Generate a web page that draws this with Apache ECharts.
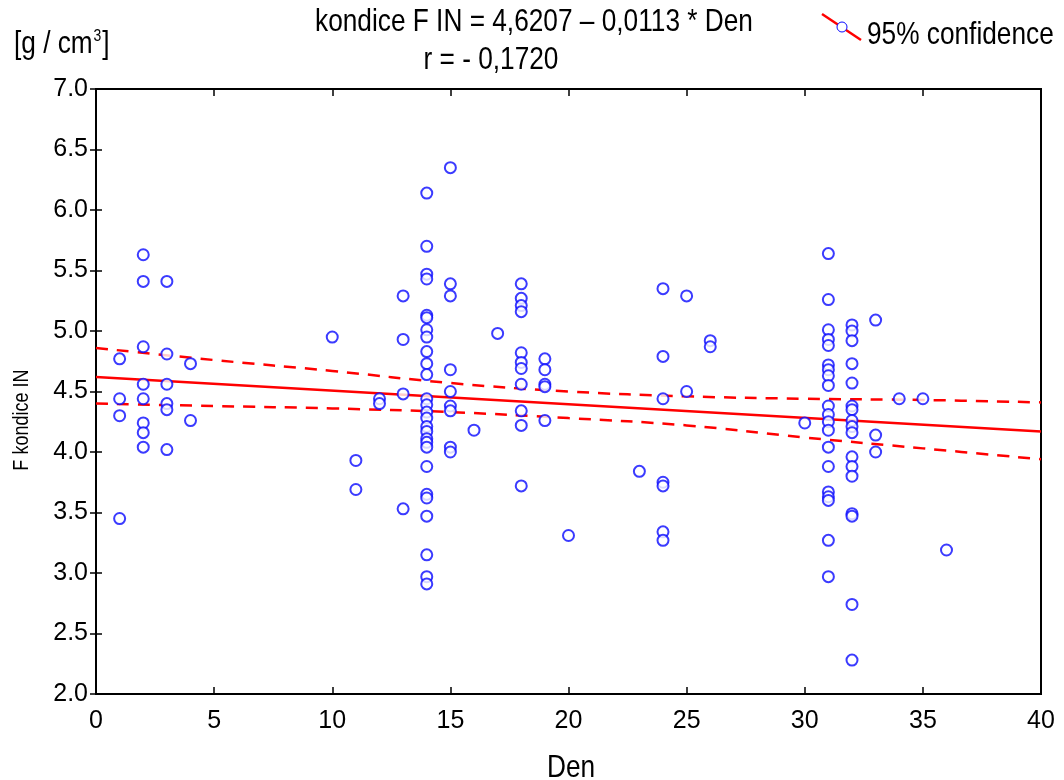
<!DOCTYPE html>
<html>
<head>
<meta charset="utf-8">
<script src="https://cdn.jsdelivr.net/npm/echarts@6/dist/echarts.min.js"></script>
<style>
html,body{margin:0;padding:0;background:#fff;}
#chart{width:1064px;height:780px;}
</style>
</head>
<body>
<div id="chart"></div>
<script>
// Observations: Den (day) and F kondice IN value
const den = [
  1,1,1,1,
  2,2,2,2,2,2,2,2,
  3,3,3,3,3,3,
  4,4,
  10,
  11,11,
  12,12,
  13,13,13,13,
  14,14,14,14,14,14,14,14,14,14,14,14,14,14,14,14,14,14,14,14,14,14,14,14,14,14,14,
  15,15,15,15,15,15,15,15,15,
  16,
  17,
  18,18,18,18,18,18,18,18,18,18,18,
  19,19,19,19,19,
  20,
  23,
  24,24,24,24,24,24,24,
  25,25,
  26,26,
  30,
  31,31,31,31,31,31,31,31,31,31,31,31,31,31,31,31,31,31,31,31,
  32,32,32,32,32,32,32,32,32,32,32,32,32,32,32,32,32,
  33,33,33,
  34,
  35,
  36
];
const kondice = [
  4.77,4.44,4.30,3.45,
  5.63,5.41,4.87,4.56,4.44,4.24,4.16,4.04,
  5.41,4.81,4.56,4.40,4.35,4.02,
  4.73,4.26,
  4.95,
  3.93,3.69,
  4.44,4.40,
  5.29,4.93,4.48,3.53,
  6.14,5.70,5.47,5.43,5.13,5.11,5.01,4.95,4.83,4.73,4.64,4.44,4.39,4.33,4.28,4.21,4.17,4.11,4.08,4.04,3.88,3.65,3.62,3.47,3.15,2.97,2.91,
  6.35,5.39,5.29,4.68,4.50,4.38,4.34,4.04,4.00,
  4.18,
  4.98,
  5.39,5.27,5.21,5.16,4.82,4.74,4.69,4.56,4.34,4.22,3.72,
  4.77,4.68,4.56,4.54,4.26,
  3.31,
  3.84,
  5.35,4.79,4.44,3.75,3.72,3.34,3.27,
  5.29,4.50,
  4.92,4.87,
  4.24,
  5.64,5.26,5.01,4.93,4.88,4.72,4.68,4.63,4.55,4.38,4.31,4.25,4.18,4.04,3.88,3.67,3.63,3.60,3.27,2.97,
  5.05,5.00,4.92,4.73,4.57,4.38,4.35,4.26,4.21,4.16,3.96,3.88,3.80,3.49,3.47,2.74,2.28,
  5.09,4.14,4.00,
  4.44,
  4.44,
  3.19
];
// Regression line end points
const regX = [0, 40];
const regY = [4.6207, 4.1687];
// 95% confidence band
const bandX = [0, 5, 10, 15, 20, 25, 30, 35, 40];
const bandUpper = [4.86, 4.76, 4.67, 4.57, 4.50, 4.46, 4.44, 4.43, 4.41];
const bandLower = [4.40, 4.38, 4.36, 4.33, 4.28, 4.22, 4.12, 4.03, 3.94];
// Axis ticks
const xTicks = {min: 0, max: 40, interval: 5};
const yTicks = {min: 2.0, max: 7.0, interval: 0.5};

const titleText = 'kondice F IN = 4,6207 \u2013 0,0113 * Den';
const subText = 'r = - 0,1720';
const legendText = '95% confidence';
const unitText = '[g / cm';
const xName = 'Den';
const yName = 'F kondice IN';

const REG = '"Liberation Sans", Arial, sans-serif';
const SQ = 0.82; // horizontal squeeze to imitate the condensed face

const scatterData = den.map((d, i) => [d, kondice[i]]);
const regData = regX.map((x, i) => [x, regY[i]]);
const upData = bandX.map((x, i) => [x, bandUpper[i]]);
const loData = bandX.map((x, i) => [x, bandLower[i]]);

const BLUE = '#0a0aff';
const chart = echarts.init(document.getElementById('chart'), null, {renderer: 'canvas'});
const axisLine = {show: true, lineStyle: {color: '#000', width: 2}};
function sqText(x, y, text, size, align, extra) {
  return Object.assign({
    type: 'text', x: x, y: y, scaleX: SQ,
    style: {text: text, fontFamily: REG, fontSize: size, fill: '#000',
            textAlign: align || 'left', textVerticalAlign: 'top'}
  }, extra || {});
}
chart.setOption({
  backgroundColor: '#fff',
  animation: false,
  grid: {left: 96, right: 23, top: 89, bottom: 86, show: true, borderColor: '#000', borderWidth: 2, containLabel: false},
  xAxis: [{
    type: 'value', min: xTicks.min, max: xTicks.max, interval: xTicks.interval,
    axisLine: axisLine,
    axisTick: {show: true, inside: true, length: 7, lineStyle: {color: '#000', width: 1.5}},
    axisLabel: {fontFamily: REG, fontSize: 25, color: '#000', margin: 15},
    splitLine: {show: false}
  }, {
    type: 'value', position: 'top', min: xTicks.min, max: xTicks.max, interval: xTicks.interval,
    axisLine: axisLine,
    axisTick: {show: true, inside: true, length: 7, lineStyle: {color: '#000', width: 1.5}},
    axisLabel: {show: false}, splitLine: {show: false}
  }],
  yAxis: [{
    type: 'value', min: yTicks.min, max: yTicks.max, interval: yTicks.interval,
    axisLine: axisLine,
    axisTick: {show: true, inside: true, length: 6, lineStyle: {color: '#000', width: 1.5}},
    axisLabel: {fontFamily: REG, fontSize: 25, color: '#000', margin: 8,
      formatter: v => v.toFixed(1)},
    splitLine: {show: false}
  }, {
    type: 'value', position: 'right', min: yTicks.min, max: yTicks.max, interval: yTicks.interval,
    axisLine: axisLine,
    axisTick: {show: true, inside: true, length: 6, lineStyle: {color: '#000', width: 1.5}},
    axisLabel: {show: false}, splitLine: {show: false}
  }],
  series: [
    {type: 'line', data: regData, showSymbol: false, symbol: 'none',
     lineStyle: {color: '#ff0000', width: 2.5}, z: 3},
    {type: 'line', data: upData, smooth: 0.4, showSymbol: false, symbol: 'none',
     lineStyle: {color: '#ff0000', width: 2.5, type: [12, 9]}, z: 3},
    {type: 'line', data: loData, smooth: 0.4, showSymbol: false, symbol: 'none',
     lineStyle: {color: '#ff0000', width: 2.5, type: [12, 9]}, z: 3},
    {type: 'scatter', data: scatterData, symbol: 'emptyCircle', symbolSize: 11,
     itemStyle: {color: BLUE, borderColor: BLUE, borderWidth: 1}, z: 4}
  ],
  graphic: [
    sqText(534, 6, titleText, 32, 'center'),
    sqText(491, 44, subText, 32, 'center'),
    {type: 'text', x: 14, y: 28, scaleX: SQ,
     style: {text: '{a|' + unitText + '}{s|3}{a|]}', textVerticalAlign: 'top', rich: {
       a: {fontFamily: REG, fontSize: 32, fill: '#000'},
       s: {fontFamily: REG, fontSize: 17, fill: '#000', padding: [0, 1, 16, 1]}
     }}},
    sqText(571, 752, xName, 32, 'center'),
    {type: 'text', x: 22, y: 420, rotation: Math.PI / 2, scaleX: SQ,
     style: {text: yName, fontFamily: REG, fontSize: 22, fill: '#000',
             textAlign: 'center', textVerticalAlign: 'middle'}},
    {type: 'line', shape: {x1: 822, y1: 14, x2: 861, y2: 40}, style: {stroke: '#ff0000', lineWidth: 2.5}},
    {type: 'circle', shape: {cx: 842, cy: 27, r: 5}, style: {stroke: BLUE, fill: '#fff', lineWidth: 1}},
    sqText(867, 19, legendText, 32, 'left')
  ]
});
</script>
</body>
</html>
